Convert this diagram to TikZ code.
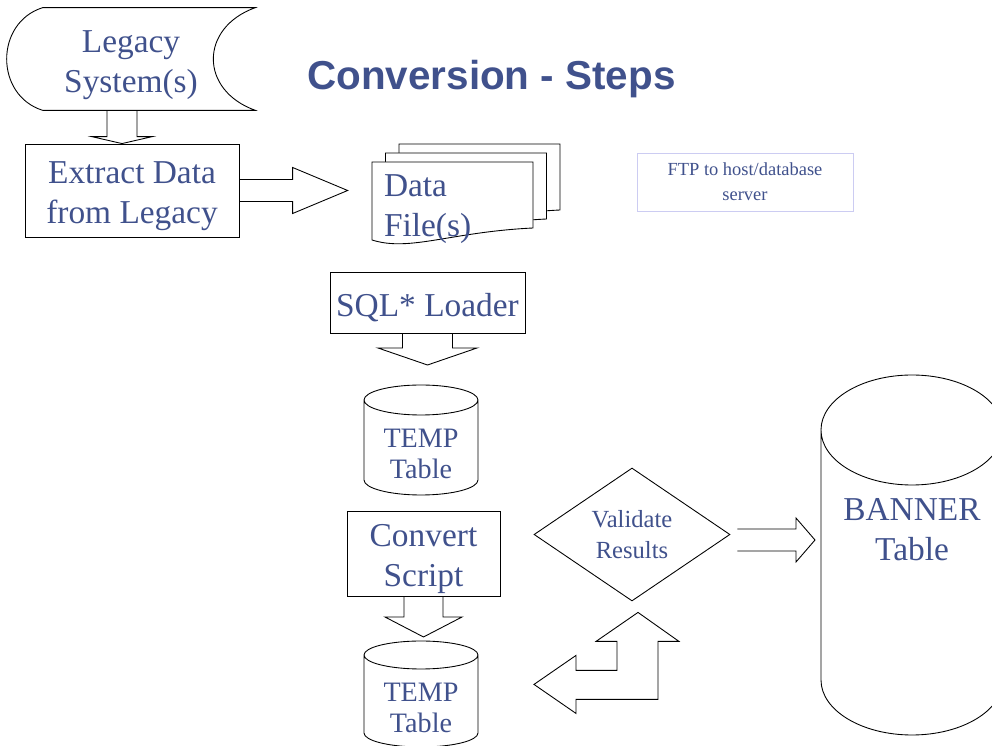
\documentclass[tikz,border=0pt]{standalone}
\usepackage{fontspec}
\setmainfont{Liberation Serif}
\newfontfamily\headfont{Liberation Sans}
\usetikzlibrary{shapes,calc}

\definecolor{slate}{RGB}{64,81,140}
\definecolor{lilac}{RGB}{204,204,242}

\newcommand{\bigtext}{\fontsize{19}{22.7}\selectfont}
\newcommand{\midtext}{\fontsize{16}{18.1}\selectfont}
\newcommand{\smalltext}{\fontsize{14}{17.6}\selectfont}
\newcommand{\tinytext}{\fontsize{10.5}{14.2}\selectfont}
\newcommand{\dropline}{\rule{0pt}{19pt}}

% flat block arrows: from, to, half shaft, half head, head length
\newcommand{\downblock}[5]{%
  \draw[blk] ($(#1)+(-#3,0)$) -- ($(#1 |- #2)+(-#3,#5)$) -- ($(#1 |- #2)+(-#4,#5)$)
    -- (#1 |- #2) -- ($(#1 |- #2)+(#4,#5)$) -- ($(#1 |- #2)+(#3,#5)$) -- ($(#1)+(#3,0)$)}
\newcommand{\rightblock}[5]{%
  \draw[blk] ($(#1)+(0,#3)$) -- ($(#2 |- #1)+(-#5,#3)$) -- ($(#2 |- #1)+(-#5,#4)$)
    -- (#2 |- #1) -- ($(#2 |- #1)+(-#5,-#4)$) -- ($(#2 |- #1)+(-#5,-#3)$) -- ($(#1)+(0,-#3)$)}
% cylinder round a text node: node, x radius, top, bottom, y radius
\newcommand{\drum}[5]{%
  \draw[blk] ($(#1.center)+(-#2,#3)$) -- ($(#1.center)+(-#2,-#4)$)
    arc[start angle=180,end angle=360,x radius=#2,y radius=#5]
    -- ($(#1.center)+(#2,#3)$)
    ($(#1.center)+(0,#3)$) ellipse[x radius=#2,y radius=#5]}

\begin{document}
\begin{tikzpicture}[x=0.02cm,y=0.02cm]

  \useasboundingbox (0,0) rectangle (992,-746);
  \clip (0,0) rectangle (992,-746);

  \coordinate (Legacy) at (131,-59);
  \coordinate (Extract) at (132,-190.5);
  \coordinate (Files) at (452.5,-209);
  \coordinate (Loader) at (427.5,-302.5);
  \coordinate (TempA) at (421,-454);
  \coordinate (Convert) at (423.5,-553.5);
  \coordinate (TempB) at (421,-708);
  \coordinate (Valid) at (632,-534.5);
  \coordinate (Banner) at (912,-529.5);
  \coordinate (Ftp) at (745,-182);
  \coordinate (Title) at (491.5,-90);

  \tikzstyle{blk}=[draw=black,line width=0.5pt];
  \tikzstyle{pbox}=[draw=black,line width=0.5pt,
                    shape=rectangle,inner sep=0pt,
                    align=center,text=slate,font=\bigtext];
  \tikzstyle{plain}=[inner sep=0pt,align=center,text=slate];
  \tikzstyle{dbox}=[draw=black,line width=0.5pt,
                    shape=diamond,aspect=1.47,inner sep=0pt,
                    minimum width=3.92cm,minimum height=2.66cm,
                    align=center,text=slate,font=\smalltext];
  \tikzstyle{ftp}=[draw=lilac,line width=0.5pt,
                   shape=rectangle,inner sep=0pt,
                   minimum width=4.32cm,minimum height=1.16cm,
                   align=center,text=slate,font=\tinytext];

  \node[anchor=base,text=slate,font=\headfont\bfseries\fontsize{23}{27}\selectfont]
       (TitleText) at (Title) {Conversion - Steps};

  \node[plain,font=\bigtext,minimum width=4.96cm,minimum height=2.04cm]
       (LegacyBox) at (Legacy) {\dropline Legacy\\System(s)};
  \draw[blk] ($(LegacyBox.north west)+(36,0)$) -- (LegacyBox.north east)
     .. controls ($(LegacyBox.north east)+(-56,-20)$) and ($(LegacyBox.south east)+(-56,20)$) .. (LegacyBox.south east)
     -- ($(LegacyBox.south west)+(36,0)$)
     .. controls ($(LegacyBox.south west)+(-12,15)$) and ($(LegacyBox.north west)+(-12,-15)$) .. cycle;

  \node[pbox,minimum width=4.28cm,minimum height=1.86cm]
       (ExtractBox) at (Extract) {\dropline Extract Data\\from Legacy};
  \coordinate (LegacyOut) at ($(LegacyBox.south)+(-9,0)$);
  \downblock{LegacyOut}{ExtractBox.north}{15}{30.5}{7};

  \foreach \k in {2,1,0}
    \draw[blk,fill=white,shift={(13.5*\k,9*\k)}] (372,-162) -- (533,-162) -- (533,-228)
       .. controls (450,-232) and (410,-252) .. (372,-240) -- cycle;
  \node[plain,font=\bigtext,align=left,text width=2.74cm,minimum height=1.56cm]
       (FilesBox) at (Files) {Data\\File(s)};
  \coordinate (FilesIn) at ($(FilesBox.west)+(-36,0)$);
  \rightblock{ExtractBox.east}{FilesIn}{11}{23}{55};

  \node[ftp] (FtpBox) at (Ftp) {FTP to host/database\\server};

  \node[pbox,minimum width=3.9cm,minimum height=1.22cm]
       (LoaderBox) at (Loader) {\dropline SQL* Loader};
  \coordinate (TempAIn) at ($(TempA)+(0,89)$);
  \downblock{LoaderBox.south}{TempAIn}{25}{49.5}{17};

  \node[plain,font=\midtext] (TempABox) at (TempA) {TEMP\\Table};
  \drum{TempABox}{57}{54}{26}{15};

  \node[pbox,minimum width=3.06cm,minimum height=1.7cm]
       (ConvertBox) at (Convert) {\dropline Convert\\Script};
  \coordinate (TempBIn) at ($(TempB)+(0,71)$);
  \downblock{ConvertBox.south}{TempBIn}{19.5}{38.5}{20};

  \node[plain,font=\midtext] (TempBBox) at (TempB) {TEMP\\Table};
  \drum{TempBBox}{57}{53}{25}{14};

  \node[dbox] (ValidBox) at (Valid) {Validate\\Results};

  \node[plain,font=\bigtext] (BannerBox) at (Banner) {BANNER\\Table};
  \drum{BannerBox}{91}{99.5}{150.5}{55};

  \coordinate (ValidOut) at ($(ValidBox.east)+(7,-5.5)$);
  \coordinate (BannerIn) at ($(BannerBox)+(-97,0)$);
  \rightblock{ValidOut}{BannerIn}{11}{22}{19};

  % two-way bent arrow back to the temp table
  \draw[blk] ($(ValidBox.south)+(6,-11)$) -- ++(41,-29) -- ++(-21,0) -- ++(0,-58)
     -- ++(-82,0) -- ++(0,-14) -- ++(-42,29) -- ++(42,29) -- ++(0,-15)
     -- ++(41,0) -- ++(0,29) -- ++(-21,0) -- cycle;

\end{tikzpicture}
\end{document}
